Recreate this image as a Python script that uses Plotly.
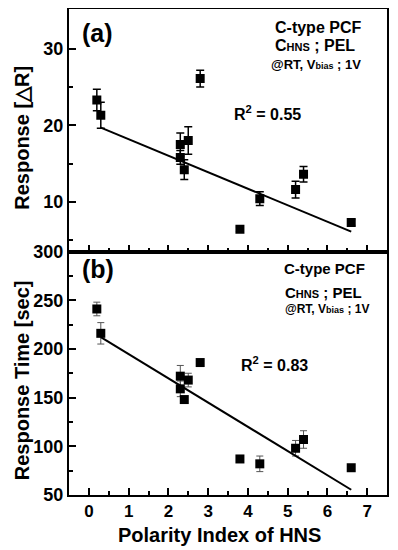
import plotly.graph_objects as go

# ---- data ----
polarity = [0.2, 0.3, 2.3, 2.3, 2.4, 2.5, 2.8, 3.8, 4.3, 5.2, 5.4, 6.6]
response = [23.3, 21.3, 17.5, 15.8, 14.2, 18.0, 26.1, 6.4, 10.4, 11.6, 13.6, 7.3]
response_err = [1.4, 1.7, 1.5, 0.9, 1.3, 1.8, 1.1, 0.3, 0.9, 1.1, 1.0, 0.4]
resp_time = [241, 216, 172, 159, 148, 168, 186, 87, 82, 98, 107, 78]
resp_time_err = [7, 11, 11, 8, 3, 7, 3, 2, 8, 8, 9, 3]
fit_x = [0.3, 6.6]
fit_resp = [19.7, 6.1]
fit_time = [212, 55.4]

x_ticks = [0, 1, 2, 3, 4, 5, 6, 7]
ya_ticks = [10, 20, 30]
yb_ticks = [50, 100, 150, 200, 250, 300]

FONT = "Liberation Sans, Arial, sans-serif"

fig = go.Figure()

fig.add_trace(go.Scatter(
    x=polarity, y=response, mode="markers", xaxis="x2", yaxis="y",
    marker=dict(symbol="square", size=9, color="black"),
    error_y=dict(type="data", array=response_err, color="black", thickness=1.5, width=4),
    showlegend=False))
fig.add_trace(go.Scatter(
    x=fit_x, y=fit_resp, mode="lines", xaxis="x2", yaxis="y",
    line=dict(color="black", width=2), showlegend=False))

fig.add_trace(go.Scatter(
    x=polarity, y=resp_time, mode="markers", xaxis="x", yaxis="y2",
    marker=dict(symbol="square", size=9, color="black"),
    error_y=dict(type="data", array=resp_time_err, color="#555555", thickness=1, width=3.5),
    showlegend=False))
fig.add_trace(go.Scatter(
    x=fit_x, y=fit_time, mode="lines", xaxis="x", yaxis="y2",
    line=dict(color="black", width=2), showlegend=False))

axis_common = dict(showline=True, linecolor="black", linewidth=2, mirror=True,
                   ticks="inside", ticklen=7, tickwidth=2, tickcolor="black",
                   showgrid=False, zeroline=False, automargin=False)

minor_x = dict(ticks="inside", ticklen=4, tickwidth=2, tickcolor="black", dtick=0.5, showgrid=False)

fig.update_layout(
    width=390, height=543,
    margin=dict(l=61, r=11, t=1, b=56, pad=0, autoexpand=False),
    plot_bgcolor="white", paper_bgcolor="white",
    font=dict(family=FONT, color="black"),
    xaxis=dict(**axis_common, domain=[0, 1], anchor="y2", range=[-0.5, 7.5],
               tickvals=x_ticks, ticktext=[str(v) for v in x_ticks],
               tickfont=dict(size=17, family=FONT, weight="bold"),
               minor=minor_x),
    xaxis2=dict(**axis_common, domain=[0, 1], anchor="y", range=[-0.5, 7.5],
                tickvals=x_ticks, showticklabels=False, matches="x",
                minor=minor_x),
    yaxis=dict(**axis_common, domain=[0.501, 1], anchor="x2", range=[3.5, 35.2],
               tickvals=ya_ticks, ticktext=[str(v) for v in ya_ticks],
               tickfont=dict(size=18, family=FONT, weight="bold"),
               minor=dict(ticks="inside", ticklen=4, tickwidth=2, tickcolor="black",
                          tickvals=[5, 15, 25], showgrid=False)),
    yaxis2=dict(**axis_common, domain=[0, 0.501], anchor="x", range=[50, 300],
                tickvals=yb_ticks, ticktext=[str(v) for v in yb_ticks],
                tickfont=dict(size=18, family=FONT, weight="bold"),
                minor=dict(ticks="inside", ticklen=4, tickwidth=2, tickcolor="black",
                           tickvals=[75, 125, 175, 225, 275], showgrid=False)),
)

def ann(text, x, y, xref, yref, size, xanchor="left", angle=0):
    fig.add_annotation(text=text, x=x, y=y, xref=xref, yref=yref, showarrow=False,
                       xanchor=xanchor, yanchor="middle", textangle=angle,
                       font=dict(size=size, family=FONT, color="black", weight="bold"))

# panel (a)
ann("(a)", 0.035, 0.90, "x2 domain", "y domain", 25)
ann("C-type PCF", 0.641, 0.922, "x2 domain", "y domain", 16)
ann("C<span style='font-size:11px'>HNS</span> ; PEL", 0.641, 0.848, "x2 domain", "y domain", 16)
ann("@RT, V<span style='font-size:9px'>bias</span> ; 1V", 0.629, 0.770, "x2 domain", "y domain", 13)
ann("R<sup>2</sup> = 0.55", 0.513, 0.572, "x2 domain", "y domain", 16)

# panel (b)
ann("(b)", 0.035, 0.93, "x domain", "y2 domain", 25)
ann("C-type PCF", 0.670, 0.93, "x domain", "y2 domain", 15)
ann("C<span style='font-size:11px'>HNS</span> ; PEL", 0.673, 0.833, "x domain", "y2 domain", 15)
ann("@RT, V<span style='font-size:9px'>bias</span> ; 1V", 0.673, 0.762, "x domain", "y2 domain", 12)
ann("R<sup>2</sup> = 0.83", 0.535, 0.537, "x domain", "y2 domain", 16)

# axis titles
ann("Response [\u25B3R]", -0.148, 0.735, "paper", "paper", 20, xanchor="center", angle=-90)
ann("Response Time [sec]", -0.148, 0.236, "paper", "paper", 20, xanchor="center", angle=-90)
ann("Polarity Index of HNS", 0.472, -0.082, "paper", "paper", 20, xanchor="center")

fig.write_html("out.html")
